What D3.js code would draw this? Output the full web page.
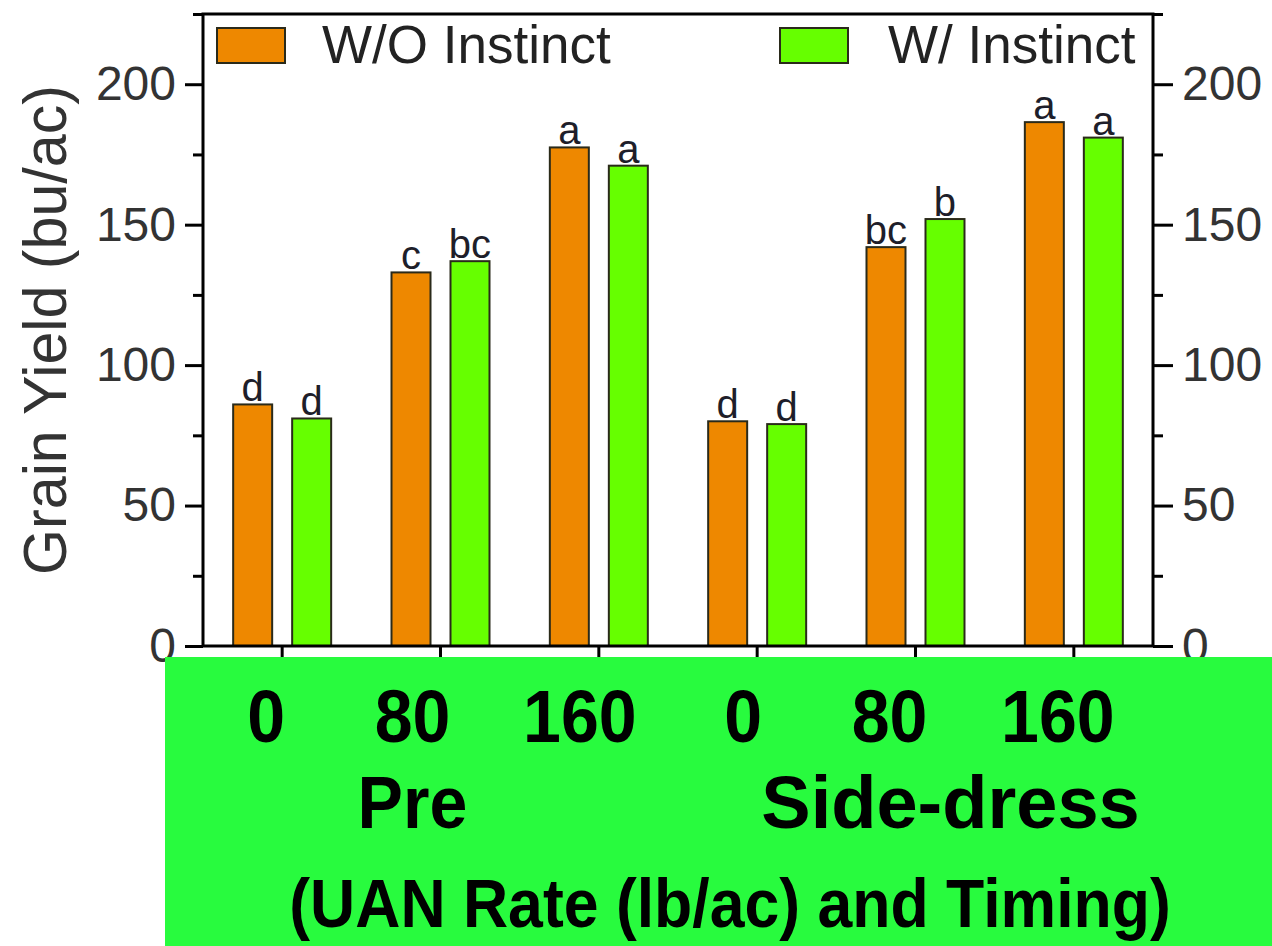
<!DOCTYPE html>
<html lang="en">
<head>
<meta charset="utf-8">
<script src="https://d3js.org/d3.v7.min.js"></script>
<style>
  body { margin: 0; background: #fff; }
  svg { display: block; }
</style>
</head>
<body>
<div id="chart"></div>
<script>
    // chart data
    const categories = ["Pre 0", "Pre 80", "Pre 160", "Side-dress 0", "Side-dress 80", "Side-dress 160"];
    const rateLabels = ["0", "80", "160", "0", "80", "160"];
    const timingLabels = ["Pre", "Side-dress"];
    const seriesNames = ["W/O Instinct", "W/ Instinct"];
    const withoutInstinct = [86, 133, 177.5, 80, 142, 186.5];
    const withInstinct = [81, 137, 171, 79, 152, 181];
    const withoutLetters = ["d", "c", "a", "d", "bc", "a"];
    const withLetters = ["d", "bc", "a", "d", "b", "a"];
    const majorTicks = [0, 50, 100, 150, 200];
    const minorTicks = [25, 75, 125, 175, 225];

    const W = 1272, H = 946;
    const plot = {left: 203, right: 1153, top: 14, bottom: 646};
    const colors = ["#EE8800", "#66FF00"];

    const svg = d3.select("#chart").append("svg")
        .attr("width", W)
        .attr("height", H);

    svg.append("rect").attr("width", W).attr("height", H).attr("fill", "#fff");

    // scales
    const x = d3.scaleBand().domain(categories).range([plot.left, plot.right]).padding(0);
    const bw = x.bandwidth();
    const x1 = d3.scaleBand().domain(seriesNames)
        .range([bw / 2 - 49, bw / 2 + 49])
        .paddingInner(20 / 59);
    const y = d3.scaleLinear().domain([0, 225]).range([plot.bottom, plot.top]);

    // bars
    const rows = categories.map((c, i) => ({
        cat: c,
        vals: [
            {s: seriesNames[0], v: withoutInstinct[i], l: withoutLetters[i], k: 0},
            {s: seriesNames[1], v: withInstinct[i], l: withLetters[i], k: 1}
        ]
    }));

    const groups = svg.append("g").selectAll("g")
        .data(rows).join("g")
        .attr("transform", d => "translate(" + x(d.cat) + ",0)");

    groups.selectAll("rect")
        .data(d => d.vals).join("rect")
        .attr("x", d => x1(d.s))
        .attr("y", d => y(d.v))
        .attr("width", x1.bandwidth())
        .attr("height", d => y(0) - y(d.v))
        .attr("fill", d => colors[d.k])
        .attr("stroke", "#2a2a1a")
        .attr("stroke-width", 2);

    groups.selectAll("text")
        .data(d => d.vals).join("text")
        .attr("x", d => x1(d.s) + x1.bandwidth() / 2)
        .attr("y", d => y(d.v) - 3)
        .attr("text-anchor", "middle")
        .attr("font-family", "Liberation Sans, Arial, sans-serif")
        .attr("font-size", 40)
        .attr("fill", "#1e1e2a")
        .text(d => d.l);

    // axes
    function styleAxis(g) {
        g.select(".domain").remove();
        g.selectAll("line").attr("stroke", "#000").attr("stroke-width", 3);
        g.selectAll("text")
            .attr("font-family", "Liberation Sans, Arial, sans-serif")
            .attr("font-size", 48)
            .attr("fill", "#333");
    }

    svg.append("g").attr("transform", "translate(" + plot.left + ",0)")
        .call(d3.axisLeft(y).tickValues(majorTicks).tickSize(18).tickPadding(9))
        .call(styleAxis);
    svg.append("g").attr("transform", "translate(" + plot.left + ",0)")
        .call(d3.axisLeft(y).tickValues(minorTicks).tickSize(10).tickFormat(""))
        .call(styleAxis);
    svg.append("g").attr("transform", "translate(" + plot.right + ",0)")
        .call(d3.axisRight(y).tickValues(majorTicks).tickSize(20).tickPadding(9))
        .call(styleAxis);
    svg.append("g").attr("transform", "translate(" + plot.right + ",0)")
        .call(d3.axisRight(y).tickValues(minorTicks).tickSize(10).tickFormat(""))
        .call(styleAxis);
    svg.append("g").attr("transform", "translate(0," + plot.bottom + ")")
        .call(d3.axisBottom(x).tickSize(14).tickFormat(""))
        .call(styleAxis);

    // frame
    svg.append("rect")
        .attr("x", plot.left).attr("y", plot.top)
        .attr("width", plot.right - plot.left).attr("height", plot.bottom - plot.top)
        .attr("fill", "none").attr("stroke", "#000").attr("stroke-width", 3);

    // y title
    svg.append("text")
        .attr("transform", "translate(66,330) rotate(-90)")
        .attr("text-anchor", "middle")
        .attr("font-family", "Liberation Sans, Arial, sans-serif")
        .attr("font-size", 62)
        .attr("textLength", 490)
        .attr("lengthAdjust", "spacingAndGlyphs")
        .attr("fill", "#333")
        .text("Grain Yield (bu/ac)");

    // legend
    const legendX = [plot.left + 14, plot.left + 577];
    const legend = svg.append("g").selectAll("g")
        .data(seriesNames).join("g")
        .attr("transform", (d, i) => "translate(" + legendX[i] + ",28)");
    legend.append("rect")
        .attr("width", 68).attr("height", 35)
        .attr("fill", (d, i) => colors[i])
        .attr("stroke", "#2a2a1a").attr("stroke-width", 2);
    legend.append("text")
        .attr("x", (d, i) => i === 0 ? 105 : 108)
        .attr("y", 35)
        .attr("font-family", "Liberation Sans, Arial, sans-serif")
        .attr("font-size", 53)
        .attr("fill", "#222")
        .text(d => d);

    // green annotation box with the category labels
    svg.append("rect")
        .attr("x", 165).attr("y", 657)
        .attr("width", W - 165).attr("height", H - 657)
        .attr("fill", "#28FB3E");

    const boldFont = "Liberation Sans, Arial, Helvetica, sans-serif";
    const rateOffset = [-16, -28, -19, -14, -26, -16];
    svg.append("g").selectAll("text")
        .data(categories).join("text")
        .attr("transform", (d, i) => "translate(" + (x(d) + bw / 2 + rateOffset[i]) + ",742) scale(0.92,1)")
        .attr("text-anchor", "middle")
        .attr("font-family", boldFont)
        .attr("font-weight", "bold")
        .attr("font-size", 74)
        .attr("fill", "#000")
        .text((d, i) => rateLabels[i]);

    const timingCenter = [x(categories[1]) + bw / 2 - 28, x(categories[4]) + bw / 2 + 35];
    const timingScale = [0.92, 1.0];
    svg.append("g").selectAll("text")
        .data(timingLabels).join("text")
        .attr("transform", (d, i) => "translate(" + timingCenter[i] + ",828) scale(" + timingScale[i] + ",1)")
        .attr("text-anchor", "middle")
        .attr("font-family", boldFont)
        .attr("font-weight", "bold")
        .attr("font-size", 74)
        .attr("fill", "#000")
        .text(d => d);

    svg.append("text")
        .attr("transform", "translate(730,927) scale(0.92,1)")
        .attr("text-anchor", "middle")
        .attr("font-family", boldFont)
        .attr("font-weight", "bold")
        .attr("font-size", 68)
        .attr("fill", "#000")
        .text("(UAN Rate (lb/ac) and Timing)");
</script>
</body>
</html>
